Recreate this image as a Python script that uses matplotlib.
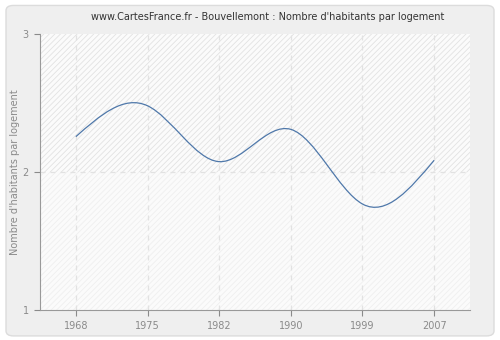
import matplotlib
matplotlib.use("Agg")
from matplotlib import pyplot as plt
from matplotlib.patches import FancyBboxPatch, PathPatch, Rectangle
from matplotlib.path import Path
import numpy as np

years = ["1968", "1975", "1982", "1990", "1999", "2007"]
habitants = [2.256, 2.48, 2.075, 2.309, 1.768, 2.085]
y_ticks = [1, 2, 3]

title = "www.CartesFrance.fr - Bouvellemont : Nombre d'habitants par logement"
y_label = "Nombre d'habitants par logement"

grey = "#8a8a8a"
line_col = "#4f78aa"

fig = plt.figure(figsize=(5, 3.4), dpi=100)
fig.patch.set_facecolor("white")
fig.patches.append(FancyBboxPatch((0.012, 0.012), 0.976, 0.972,
                                  boxstyle="round,pad=0,rounding_size=0.015",
                                  transform=fig.transFigure, facecolor="#efefef",
                                  edgecolor="#dcdcdc", linewidth=1, zorder=-10))

ax = fig.add_axes([40 / 500, 30 / 340, 430 / 500, 276 / 340])
ax.set_facecolor("#fbfbfb")
ax.set_xlim(-0.5, 5.5)
ax.set_ylim(1, 3)

# hatched background, a little stronger in the upper half
plt.rcParams["hatch.linewidth"] = 0.6
ax.add_patch(Rectangle((-0.5, 2), 6, 1, facecolor="none", edgecolor="#e2e2e2",
                       hatch="//////", linewidth=0, zorder=0))
ax.add_patch(Rectangle((-0.5, 1), 6, 1, facecolor="none", edgecolor="#efefef",
                       hatch="//////", linewidth=0, zorder=0))

x = np.arange(len(years))
for xi in x:
    ax.axvline(xi, color="#e2e2e2", linestyle=(0, (4, 4)), linewidth=0.9, zorder=1)
ax.axhline(2, color="#e2e2e2", linestyle=(0, (4, 4)), linewidth=0.9, zorder=1)

# natural cubic spline through the census values, drawn as Bezier segments
y = np.array(habitants)
n = len(y)
A = np.zeros((n, n))
b = np.zeros(n)
A[0, 0] = A[-1, -1] = 1
for i in range(1, n - 1):
    A[i, i - 1:i + 2] = [1, 4, 1]
    b[i] = 6 * (y[i + 1] - 2 * y[i] + y[i - 1])
M = np.linalg.solve(A, b)
tang = np.zeros(n)
for i in range(n - 1):
    tang[i] = (y[i + 1] - y[i]) - (2 * M[i] + M[i + 1]) / 6
tang[-1] = (y[-1] - y[-2]) + (M[-2] + 2 * M[-1]) / 6

verts = [(x[0], y[0])]
codes = [Path.MOVETO]
for i in range(n - 1):
    verts += [(x[i] + 1 / 3, y[i] + tang[i] / 3),
              (x[i + 1] - 1 / 3, y[i + 1] - tang[i + 1] / 3),
              (x[i + 1], y[i + 1])]
    codes += [Path.CURVE4] * 3
ax.add_patch(PathPatch(Path(verts, codes), facecolor="none", edgecolor=line_col,
                       linewidth=0.9, zorder=3))

ax.set_xticks(x)
ax.set_xticklabels(years)
ax.set_yticks(y_ticks)
ax.tick_params(colors=grey, labelcolor=grey, labelsize=7, length=4, width=0.8, pad=4)
for s in ["top", "right"]:
    ax.spines[s].set_visible(False)
for s in ["left", "bottom"]:
    ax.spines[s].set_color("#999999")
ax.set_ylabel(y_label, color=grey, fontsize=7, labelpad=2)
fig.text(0.535, 0.95, title, ha="center", va="center", fontsize=7, color="#333333")

fig.savefig("out.png", dpi=100, facecolor=fig.get_facecolor())
